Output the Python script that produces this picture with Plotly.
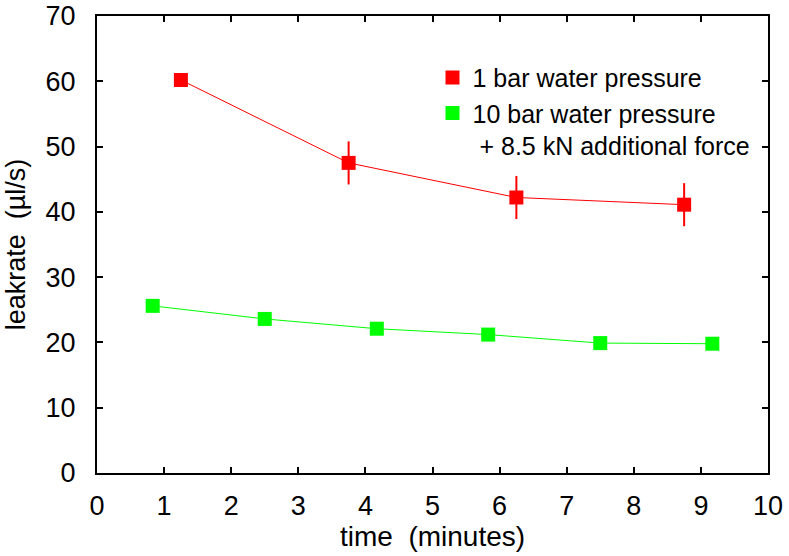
import plotly.graph_objects as go

# Data
time_1bar = [1.25, 3.75, 6.25, 8.75]
leak_1bar = [60.2, 47.5, 42.2, 41.1]
err_1bar = [0.0, 3.3, 3.3, 3.3]

time_10bar = [0.83, 2.5, 4.17, 5.83, 7.5, 9.17]
leak_10bar = [25.6, 23.6, 22.1, 21.2, 19.9, 19.8]

x_ticks = [0, 1, 2, 3, 4, 5, 6, 7, 8, 9, 10]
y_ticks = [0, 10, 20, 30, 40, 50, 60, 70]

RED = "#ff0000"
GREEN = "#00ff00"
FONT = "Liberation Sans"

fig = go.Figure()

# connecting lines
fig.add_trace(go.Scatter(x=time_1bar, y=leak_1bar, mode="lines",
                         line=dict(color=RED, width=1), showlegend=False, hoverinfo="skip"))
fig.add_trace(go.Scatter(x=time_10bar, y=leak_10bar, mode="lines",
                         line=dict(color=GREEN, width=1), showlegend=False, hoverinfo="skip"))

# markers
fig.add_trace(go.Scatter(
    x=time_1bar, y=leak_1bar, mode="markers",
    name="1 bar water pressure",
    marker=dict(symbol="square", size=14, color=RED, line=dict(width=0)),
    error_y=dict(type="data", array=err_1bar, visible=True, color=RED, thickness=2, width=0),
))
fig.add_trace(go.Scatter(
    x=time_10bar, y=leak_10bar, mode="markers",
    name="10 bar water pressure<br>\u00a0+ 8.5 kN additional force",
    marker=dict(symbol="square", size=14, color=GREEN, line=dict(width=0)),
))

axis_common = dict(
    showline=True, linecolor="black", linewidth=2, mirror="ticks",
    ticks="inside", ticklen=6, tickwidth=1.5, tickcolor="black",
    showgrid=False, zeroline=False, automargin=False,
    ticklabeloverflow="allow",
    tickfont=dict(family=FONT, size=27, color="black"),
)

fig.update_xaxes(range=[0, 10], tickvals=x_ticks, ticktext=[str(v) for v in x_ticks],
                 title=dict(text="time  (minutes)", font=dict(family=FONT, size=28, color="black"), standoff=2),
                 ticklabelstandoff=8, **axis_common)
fig.update_yaxes(range=[0, 70], tickvals=y_ticks, ticktext=[str(v) for v in y_ticks],
                 title=dict(text="leakrate  (\u00b5l/s)", font=dict(family=FONT, size=27, color="black"), standoff=12),
                 ticklabelstandoff=14, **axis_common)

fig.update_layout(
    width=789, height=556,
    margin=dict(l=97, r=21, t=16, b=83, autoexpand=False),
    plot_bgcolor="white", paper_bgcolor="white",
    font=dict(family=FONT, size=25, color="black"),
    legend=dict(x=0.50, y=0.915, xanchor="left", yanchor="top",
                bgcolor="rgba(0,0,0,0)", borderwidth=0,
                font=dict(family=FONT, size=25, color="black"),
                valign="top", tracegroupgap=0, itemwidth=30),
    showlegend=True,
)

# remove the default 8px page margin so the figure fills the window exactly
fig.write_html("out.html", config={"displayModeBar": False},
               post_script="document.body.style.margin='0';document.body.style.overflow='hidden';")
